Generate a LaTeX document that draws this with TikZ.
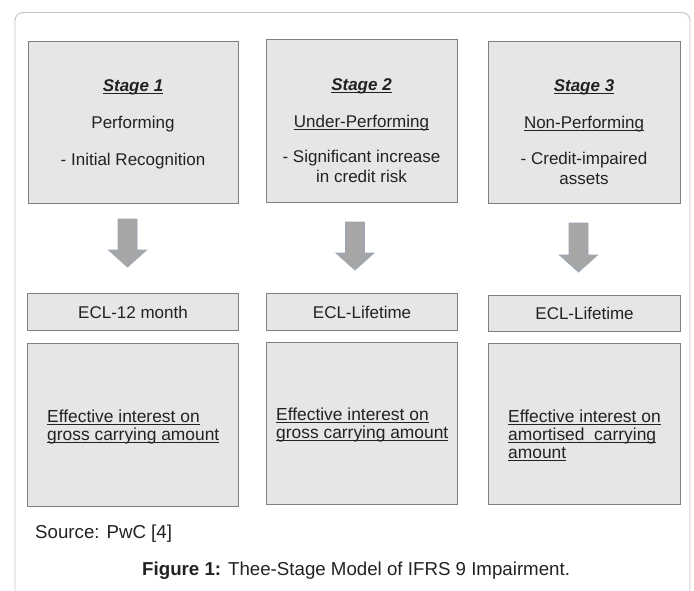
\documentclass[tikz,border=0pt]{standalone}
\usepackage{fontspec}
\setmainfont{Liberation Sans}
\newcommand\myul[1]{\leavevmode\setbox0\hbox{#1}\rlap{\vrule height -2pt depth 2.8pt width \wd0}\box0}
\definecolor{boxfill}{HTML}{E6E6E6}
\definecolor{boxline}{HTML}{7F7F7F}
\definecolor{arrowfill}{HTML}{A6A6A6}
\definecolor{arrowline}{HTML}{9AA8B8}
\definecolor{framec}{HTML}{C4C4C4}
\definecolor{txtc}{HTML}{222222}
\newcommand\blkarrow[4]{%
  \filldraw[blockarr] (#1-9.5,#2) -- (#1+9.5,#2) -- (#1+9.5,#3) -- (#1+19,#3)
    -- (#1,#4) -- (#1-19,#3) -- (#1-9.5,#3) -- cycle;}
\tikzset{
  box/.style={draw=boxline, fill=boxfill, line width=1.1pt, inner sep=0pt, anchor=north west},
  txt/.style={inner sep=0pt, anchor=base, text=txtc, font=\fontsize{17}{20}\selectfont},
  ltxt/.style={txt, anchor=base west, font=\fontsize{17.4}{20}\selectfont},
  captxt/.style={inner sep=0pt, text=txtc, font=\fontsize{18.7}{22}\selectfont},
  blockarr/.style={fill=arrowfill, draw=arrowline, line width=0.8pt, line join=miter},
}
\begin{document}
\begin{tikzpicture}[x=1pt, y=-1pt]
\useasboundingbox (0,0) rectangle (694,590);
\clip (0,0) rectangle (694,590);
\fill[white] (0,0) rectangle (694,590);
% outer frame
\draw[framec, line width=0.9pt, rounded corners=8pt] (15,640) -- (15,12.5) -- (690,12.5) -- (690,640);

% stage boxes
\node[box, minimum width=210pt, minimum height=162pt] (s1) at (28,41) {};
\node[box, minimum width=191pt, minimum height=163pt] (s2) at (266,39) {};
\node[box, minimum width=192pt, minimum height=162pt] (s3) at (488,41) {};

\node[txt] (s1a) at (133,91) {\myul{\textbf{\textit{Stage 1}}}};
\node[txt] (s1b) at (133,128) {Performing};
\node[txt] (s1c) at (133,165) {- Initial Recognition};

\node[txt] (s2a) at (361.5,90) {\myul{\textbf{\textit{Stage 2}}}};
\node[txt] (s2b) at (361.5,127) {\myul{Under-Performing}};
\node[txt] (s2c) at (361.5,162) {- Significant increase};
\node[txt] (s2d) at (361.5,182) {in credit risk};

\node[txt] (s3a) at (584,91) {\myul{\textbf{\textit{Stage 3}}}};
\node[txt] (s3b) at (584,128) {\myul{Non-Performing}};
\node[txt] (s3c) at (584,164) {- Credit-impaired};
\node[txt] (s3d) at (584,184) {assets};

% block arrows
\blkarrow{127.5}{219}{250}{267}
\blkarrow{355}{222}{253}{270}
\blkarrow{578.5}{223}{255}{272}

% ECL boxes
\node[box, minimum width=211pt, minimum height=37pt] (e1) at (27,293) {};
\node[box, minimum width=191pt, minimum height=37pt] (e2) at (266,293) {};
\node[box, minimum width=192pt, minimum height=36pt] (e3) at (488,295) {};
\node[txt, anchor=center] (e1t) at (e1.center) {ECL-12 month};
\node[txt, anchor=center] (e2t) at (e2.center) {ECL-Lifetime};
\node[txt, anchor=center] (e3t) at (e3.center) {ECL-Lifetime};

% effective interest boxes
\node[box, minimum width=211pt, minimum height=163pt] (f1) at (27,343) {};
\node[box, minimum width=191pt, minimum height=162pt] (f2) at (266,342) {};
\node[box, minimum width=192pt, minimum height=161pt] (f3) at (488,343) {};

\node[ltxt] (f1a) at (47,422) {\myul{Effective interest on}};
\node[ltxt] (f1b) at (47,440) {\myul{gross carrying amount}};
\node[ltxt] (f2a) at (276,420) {\myul{Effective interest on}};
\node[ltxt] (f2b) at (276,438) {\myul{gross carrying amount}};
\node[ltxt] (f3a) at (508,422) {\myul{Effective interest on}};
\node[ltxt] (f3b) at (508,440) {\myul{amortised\ \ carrying}};
\node[ltxt] (f3c) at (508,458) {\myul{amount}};

% source and caption
\node[captxt, anchor=base west] (src) at (35,538) {Source: PwC [4]};
\node[captxt, anchor=base west] (cap) at (142,575) {\textbf{Figure 1:} Thee-Stage Model of IFRS 9 Impairment.};
\end{tikzpicture}
\end{document}
